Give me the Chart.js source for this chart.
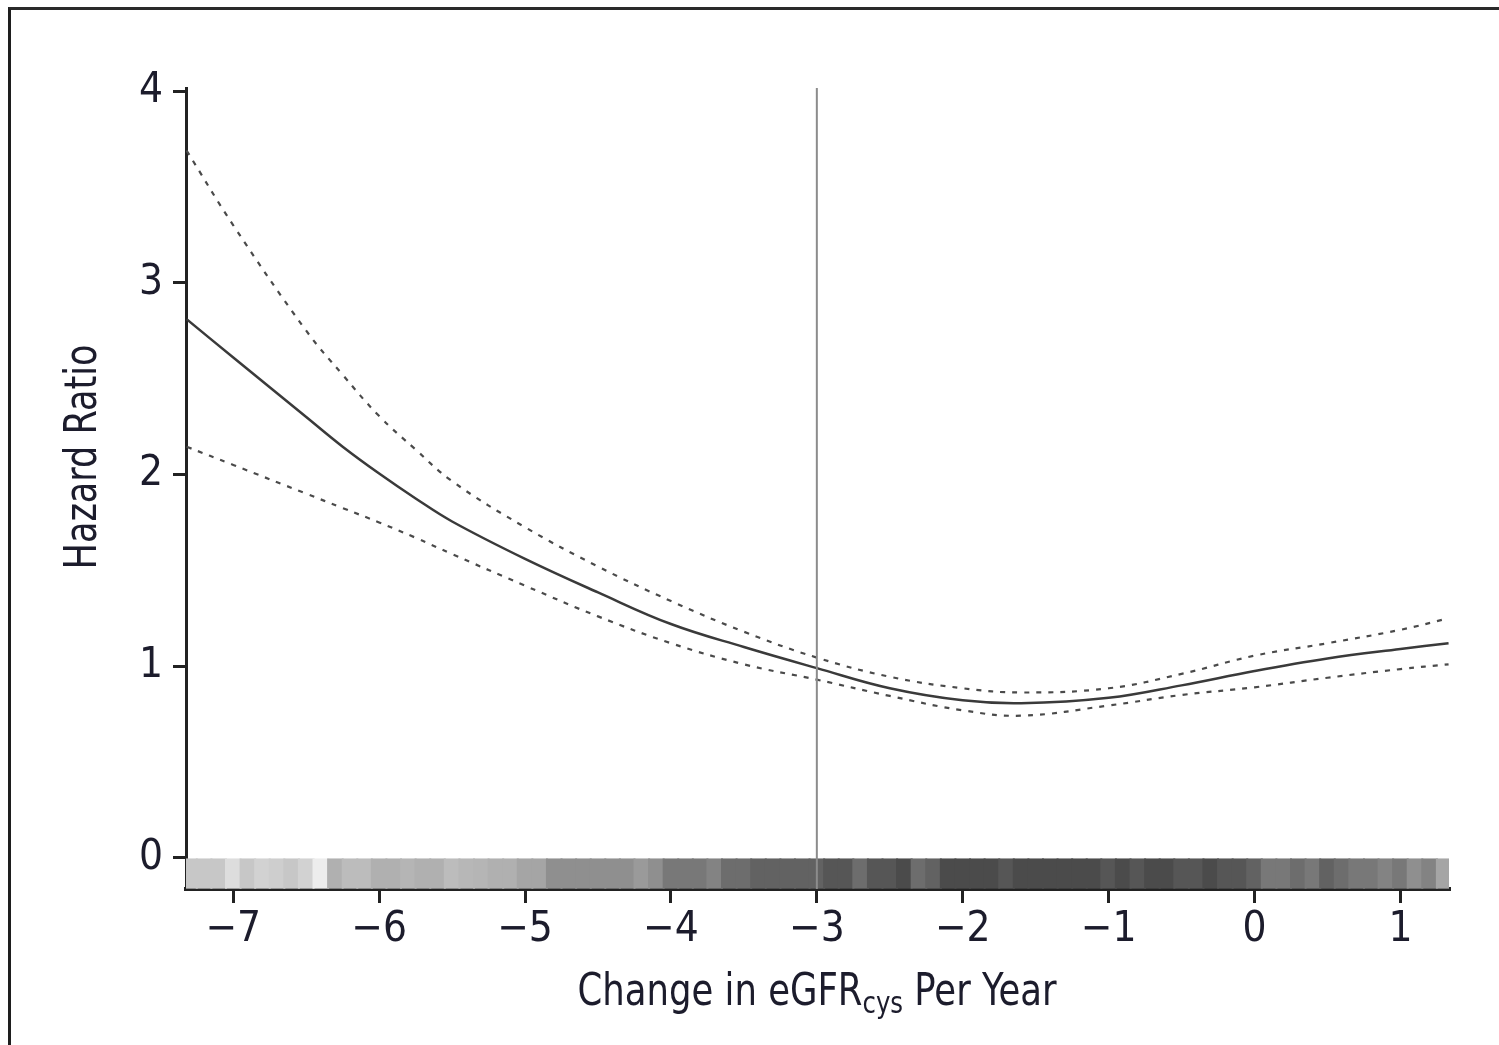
<!DOCTYPE html>
<html><head><meta charset="utf-8">
<script src="https://cdn.jsdelivr.net/npm/chart.js@4.4.1/dist/chart.umd.min.js"></script>
<style>
html,body{margin:0;padding:0;background:#fff;overflow:hidden}
#wrap{position:relative;width:1499px;height:1045px}
#frame{position:absolute;left:8px;top:7px;width:1600px;height:1100px;border-left:3px solid #1e1e1e;border-top:3px solid #2a2a2a;pointer-events:none}
canvas{position:absolute;left:0;top:0}
</style></head><body>
<div id="wrap"><canvas id="c" width="1499" height="1045"></canvas><div id="frame"></div></div>
<script>
// ---- data ----
const xValues    = [-7.32, -7.0, -6.5, -6.25, -6.0, -5.75, -5.5, -5.0, -4.5, -4.0, -3.5, -3.0, -2.5, -2.0, -1.6, -1.0, -0.5, 0.0, 0.5, 1.0, 1.33];
const hrEstimate = [2.81, 2.61, 2.30, 2.145, 2.005, 1.875, 1.755, 1.56, 1.385, 1.22, 1.10, 0.99, 0.885, 0.822, 0.807, 0.835, 0.90, 0.975, 1.04, 1.09, 1.12];
const hrUpper    = [3.69, 3.30, 2.75, 2.52, 2.305, 2.13, 1.965, 1.725, 1.52, 1.34, 1.18, 1.045, 0.945, 0.885, 0.863, 0.885, 0.96, 1.055, 1.12, 1.19, 1.25];
const hrLower    = [2.145, 2.05, 1.90, 1.825, 1.75, 1.67, 1.585, 1.42, 1.26, 1.12, 1.01, 0.93, 0.845, 0.77, 0.742, 0.795, 0.85, 0.89, 0.94, 0.985, 1.01];
const referenceX = -3;
const xTicks = [-7, -6, -5, -4, -3, -2, -1, 0, 1];
const yTicks = [0, 1, 2, 3, 4];
// rug of observations (bin centre, darkness)
const rugX = [-7.3,-7.2,-7.1,-7.0,-6.9,-6.8,-6.7,-6.6,-6.5,-6.4,-6.3,-6.2,-6.1,-6.0,-5.9,-5.8,-5.7,-5.6,-5.5,-5.4,-5.3,-5.2,-5.1,-5.0,-4.9,-4.8,-4.7,-4.6,-4.5,-4.4,-4.3,-4.2,-4.1,-4.0,-3.9,-3.8,-3.7,-3.6,-3.5,-3.4,-3.3,-3.2,-3.1,-3.0,-2.9,-2.8,-2.7,-2.6,-2.5,-2.4,-2.3,-2.2,-2.1,-2.0,-1.9,-1.8,-1.7,-1.6,-1.5,-1.4,-1.3,-1.2,-1.1,-1.0,-0.9,-0.8,-0.7,-0.6,-0.5,-0.4,-0.3,-0.2,-0.1,0.0,0.1,0.2,0.3,0.4,0.5,0.6,0.7,0.8,0.9,1.0,1.1,1.2,1.3];
const rugShade = [0.25,0.25,0.25,0.15,0.25,0.2,0.22,0.25,0.2,0.08,0.35,0.3,0.3,0.35,0.35,0.33,0.35,0.35,0.3,0.32,0.33,0.35,0.35,0.4,0.4,0.5,0.5,0.5,0.5,0.5,0.5,0.45,0.5,0.6,0.6,0.6,0.55,0.65,0.65,0.7,0.7,0.7,0.7,0.7,0.75,0.75,0.65,0.75,0.75,0.8,0.65,0.7,0.8,0.8,0.8,0.8,0.75,0.8,0.8,0.8,0.8,0.8,0.8,0.75,0.8,0.75,0.8,0.8,0.75,0.75,0.8,0.75,0.75,0.7,0.6,0.6,0.65,0.6,0.7,0.65,0.6,0.6,0.55,0.6,0.5,0.55,0.4];
const xTitleParts = ['Change in eGFR', 'cys', ' Per Year'];
const yTitle = 'Hazard Ratio';

const FONT = '"Liberation Sans Narrow", "Arial Narrow", "DejaVu Sans Condensed", "Liberation Sans", sans-serif';
const TEXT = '#1c1c2c';

const pts = arr => xValues.map((x, i) => ({x, y: arr[i]}));
const fmt = v => v < 0 ? '\u2212' + Math.abs(v) : String(v);
const shadeColor = a => { const g = Math.round(255 * (1 - a) + 30 * a); return `rgb(${g},${g},${g})`; };

const titlePlugin = {
  id: 'titles',
  afterDraw(chart) {
    const ctx = chart.ctx;
    ctx.save();
    ctx.fillStyle = TEXT;
    ctx.textBaseline = 'alphabetic';
    const big = '45px ' + FONT, small = '31px ' + FONT;
    ctx.font = big; const w1 = ctx.measureText(xTitleParts[0]).width;
    ctx.font = small; const w2 = ctx.measureText(xTitleParts[1]).width;
    ctx.font = big; const w3 = ctx.measureText(xTitleParts[2]).width;
    const total = w1 + w2 + w3, k = 479 / total;
    ctx.save();
    ctx.translate(817 - 479 / 2, 1005); ctx.scale(k, 1);
    let x = 0;
    ctx.textAlign = 'left';
    ctx.font = big; ctx.fillText(xTitleParts[0], x, 0); x += w1;
    ctx.font = small; ctx.fillText(xTitleParts[1], x, 8); x += w2;
    ctx.font = big; ctx.fillText(xTitleParts[2], x, 0);
    ctx.restore();
    ctx.font = big;
    const wy = ctx.measureText(yTitle).width, ky = 225 / wy;
    ctx.translate(96, 457); ctx.rotate(-Math.PI / 2); ctx.scale(ky, 1);
    ctx.textAlign = 'center';
    ctx.fillText(yTitle, 0, 0);
    ctx.restore();
  }
};

new Chart(document.getElementById('c'), {
  type: 'line',
  data: {
    datasets: [
      { label: 'Reference', data: [{x: referenceX, y: -0.162}, {x: referenceX, y: 4.016}], borderColor: '#8c8c8c', borderWidth: 2, pointRadius: 0, order: 0 },
      { label: 'Upper 95% CI', data: pts(hrUpper), borderColor: '#4a4a4a', borderWidth: 2.2, borderDash: [5, 7], pointRadius: 0, tension: 0.4, order: 1 },
      { label: 'Hazard ratio', data: pts(hrEstimate), borderColor: '#3a3a3a', borderWidth: 2.5, pointRadius: 0, tension: 0.4, order: 1 },
      { label: 'Lower 95% CI', data: pts(hrLower), borderColor: '#4a4a4a', borderWidth: 2.2, borderDash: [5, 7], pointRadius: 0, tension: 0.4, order: 1 },
      { type: 'bar', label: 'Observations', data: rugX.map(x => ({x, y: [-0.155, 0]})),
        backgroundColor: rugShade.map(shadeColor), borderWidth: 0, inflateAmount: 1,
        barPercentage: 1.0, categoryPercentage: 1.0, order: 2 }
    ]
  },
  options: {
    responsive: false, devicePixelRatio: 1, animation: false,
    layout: { padding: { left: 0, top: 88, right: 50, bottom: 0 } },
    plugins: { legend: { display: false }, tooltip: { enabled: false } },
    scales: {
      x: {
        type: 'linear', min: -7.324, max: 1.333, offset: false,
        afterFit: s => { s.height = 1045 - 889; },
        afterBuildTicks: s => { s.ticks = xTicks.map(v => ({value: v})); },
        border: { display: true, color: '#222', width: 4 },
        grid: { display: true, offset: false, drawOnChartArea: false, drawTicks: true, tickLength: 14, lineWidth: 3, color: '#222' },
        ticks: { color: TEXT, font: { family: FONT, size: 42 }, padding: 2, maxRotation: 0, autoSkip: false, callback: v => fmt(v) }
      },
      y: {
        type: 'linear', min: -0.162, max: 4.016,
        afterFit: s => { s.width = 186; },
        afterBuildTicks: s => { s.ticks = yTicks.map(v => ({value: v})); },
        border: { display: true, color: '#222', width: 3 },
        grid: { display: true, drawOnChartArea: false, drawTicks: true, tickLength: 13, lineWidth: 3, color: '#222' },
        ticks: { color: TEXT, font: { family: FONT, size: 42 }, padding: 10, autoSkip: false, callback: v => fmt(v) }
      }
    }
  },
  plugins: [titlePlugin]
});
</script>
</body></html>
